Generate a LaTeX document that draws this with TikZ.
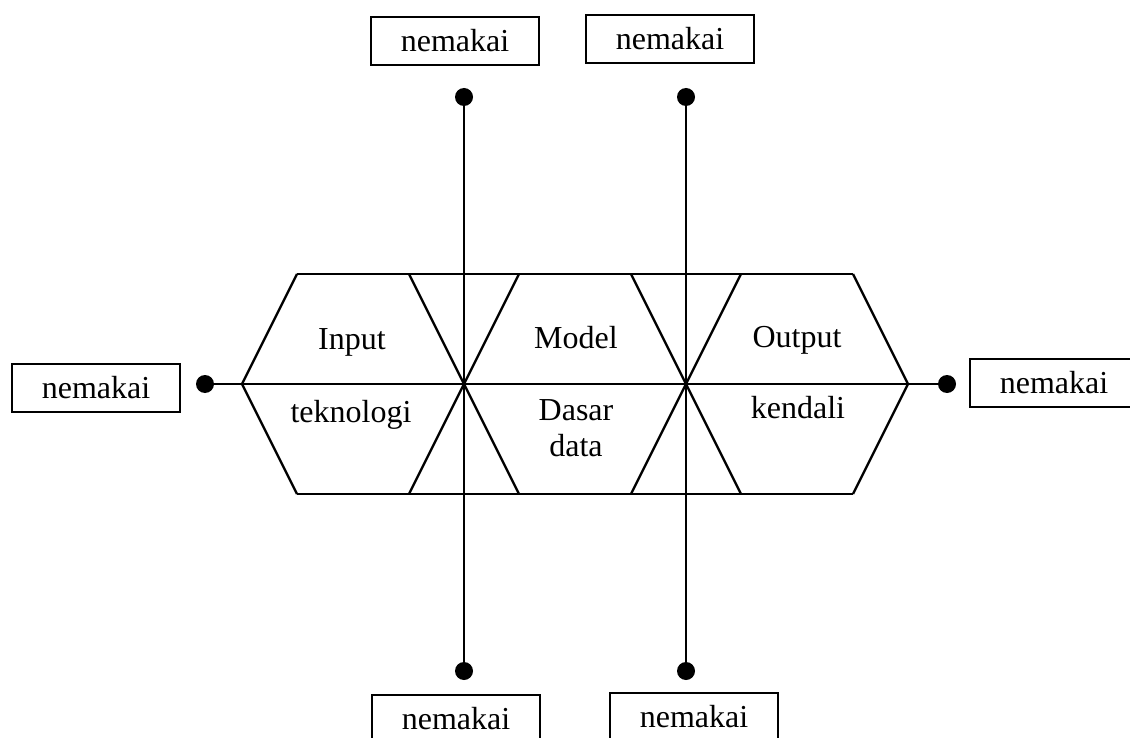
\documentclass[tikz,border=0pt]{standalone}
\usepackage{fontspec}
\setmainfont{Liberation Serif}
\begin{document}
\begin{tikzpicture}[x=1pt, y=-1pt,
    userbox/.style={draw, line width=2.6pt, minimum width=168pt, minimum height=48pt, inner sep=0pt, font=\fontsize{32}{38}\selectfont},
    joint/.style={circle, fill, inner sep=0pt, minimum size=18pt},
    hextext/.style={anchor=base, inner sep=0pt, font=\fontsize{32}{38}\selectfont},
    edge/.style={line width=2.4pt}]
    \useasboundingbox (0,0) rectangle (1130,738);
    \clip (0,0) rectangle (1130,738);
      % band of hexagons
      \draw[edge] (297,274) -- (853,274);
      \draw[edge] (297,494) -- (853,494);
      \foreach \c in {353,575,797} {
        \draw[edge] (\c-56,274) -- (\c-111,384) -- (\c-56,494);
        \draw[edge] (\c+56,274) -- (\c+111,384) -- (\c+56,494);
      }
      % hexagon texts
      \foreach \t/\x/\y [count=\i] in {Input/352/349,teknologi/351/422,Model/576/348,Dasar/576/420,data/576/456,Output/797/347,kendali/798/418} {
        \node[hextext] (h\i) at (\x,\y) {\t};
      }
      % joints
      \foreach \n/\x/\y in {jt1/464/97,jt2/686/97,jb1/464/671,jb2/686/671,jl/205/384,jr/947/384} {
        \node[joint] (\n) at (\x,\y) {};
      }
      % connectors
      \draw[line width=2.7pt] (jt1) -- (jb1);
      \draw[line width=2.7pt] (jt2) -- (jb2);
      \draw[edge] (jl) -- (jr);
      % user boxes
      \foreach \n/\x/\y in {ut1/455/41,ut2/670/39,ul/96/388,ur/1054/383,ub1/456/719,ub2/694/717} {
        \node[userbox] (\n) at (\x,\y) {nemakai};
      }
    \end{tikzpicture}
\end{document}
